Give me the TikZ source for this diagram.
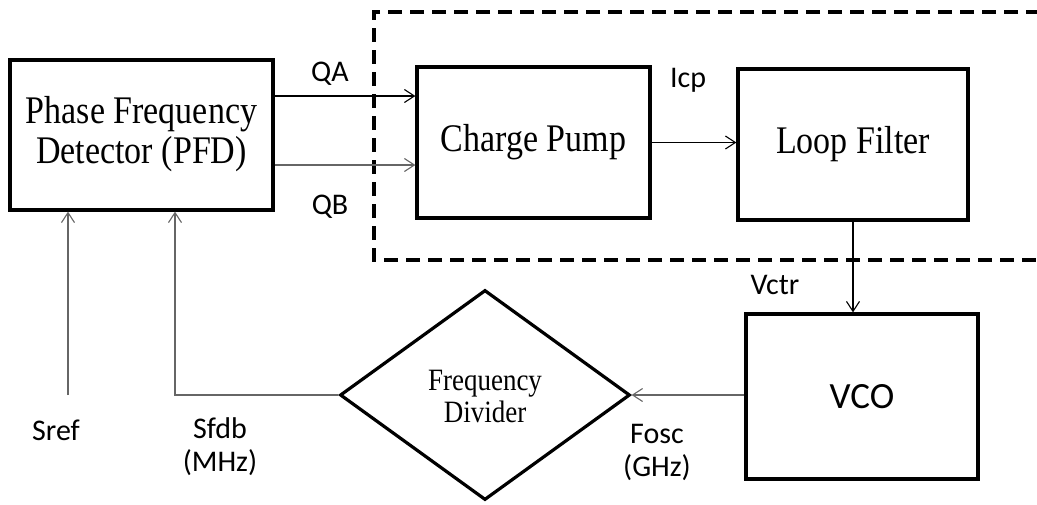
\documentclass[tikz,border=0pt]{standalone}
\usepackage{fontspec}
\setmainfont{Liberation Serif}
\newfontfamily\lblfont{Carlito}
\usetikzlibrary{arrows.meta,shapes.geometric}
\newcommand{\tallt}[1]{\scalebox{1}[1.15]{\begin{tabular}{@{}c@{}}#1\end{tabular}}}
\begin{document}
\begin{tikzpicture}[x=1pt,y=-1pt,
  blockbox/.style={draw,line width=3.2pt,rectangle,inner sep=0pt,align=center,font=\fontsize{34}{37}\selectfont},
  conn/.style={line width=1.1pt,-{Straight Barb[length=10pt,width=13pt,line width=1.1pt]}},
  greyconn/.style={conn,draw=black!60},
  lbl/.style={font=\lblfont\fontsize{30}{33}\selectfont,align=center,inner sep=0pt}]
\useasboundingbox (0,0) rectangle (1037,504);
% dashed enclosure
\draw[line width=3.4pt,dash pattern=on 14pt off 8pt] (1040,12) -- (374,12) -- (374,260) -- (1040,260);
% blocks
\node[blockbox,minimum width=263pt,minimum height=150pt] (pfd) at (141.5,135) {\tallt{Phase Frequency\\[-2pt]Detector (PFD)}};
\node[blockbox,minimum width=233pt,minimum height=151pt] (cp) at (533.5,142.5) {\tallt{Charge Pump}};
\node[blockbox,minimum width=230pt,minimum height=151pt] (lf) at (853,144.5) {\tallt{Loop Filter}};
\node[blockbox,minimum width=232pt,minimum height=165pt,font=\lblfont\fontsize{37}{40}\selectfont] (vco) at (862,396.5) {VCO};
\node[draw,diamond,line width=3.2pt,inner sep=0pt,minimum width=290pt,minimum height=210pt] (fd) at (485,395) {};
\node[inner sep=0pt,font=\fontsize{27}{31}\selectfont] (fdtext) at ([yshift=-4pt]fd.center) {\tallt{Frequency\\[-3pt]Divider}};
% connectors
\draw[conn] ([yshift=39pt]pfd.east) coordinate (qa) -- (qa -| cp.west);
\draw[greyconn] ([yshift=-30pt]pfd.east) coordinate (qb) -- (qb -| cp.west);
\draw[conn] (cp.east) -- (cp.east -| lf.west);
\draw[conn] (lf.south) -- (lf.south |- vco.north);
\draw[greyconn] (vco.west |- fd.east) -- (fd.east);
\draw[greyconn] (fd.west) -| ([xshift=33.5pt]pfd.south);
\coordinate (srefpt) at (68,395);
\draw[greyconn] (srefpt) -- (srefpt |- pfd.south);
% labels
\node[lbl] (lqa) at (330,74) {QA};
\node[lbl] (lqb) at (330,207) {QB};
\node[lbl] (licp) at (688,80) {Icp};
\node[lbl] (lvctr) at (775,285) {Vctr};
\node[lbl] (lsref) at (56,430) {Sref};
\node[lbl] (lsfdb) at (220,447) {Sfdb\\(MHz)};
\node[lbl] (lfosc) at (657,452) {Fosc\\(GHz)};
\end{tikzpicture}
\end{document}
